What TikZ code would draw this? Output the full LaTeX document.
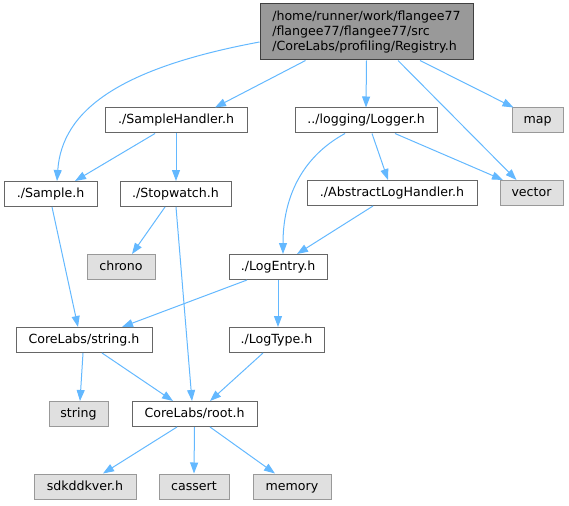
\documentclass[tikz,border=0pt]{standalone}
\usepackage{fontspec}
\setmainfont{DejaVu Sans}
\usetikzlibrary{arrows.meta,calc}
\definecolor{IncEdge}{RGB}{99,184,255}
\definecolor{IncBorder}{RGB}{102,102,102}
\definecolor{SysBorder}{RGB}{153,153,153}
\definecolor{SysFill}{RGB}{224,224,224}
\definecolor{RootFill}{RGB}{153,153,153}
\definecolor{RootBorder}{RGB}{64,64,64}

\begin{document}
\begin{tikzpicture}[x=1pt, y=-1pt, >={Triangle[length=11pt, width=8pt]}]
    \tikzstyle{hdr}=[draw=IncBorder, line width=1pt, fill=white, minimum height=25pt, inner sep=0pt, text height=9.5pt, text depth=2.5pt, font=\fontsize{12.6}{15}\selectfont]
    \tikzstyle{sys}=[hdr, draw=SysBorder, fill=SysFill]
    \tikzstyle{top}=[hdr, draw=RootBorder, fill=RootFill, align=left, minimum height=56pt, text height=, text depth=]
    \tikzstyle{inc}=[->, IncEdge, line width=1pt]

    \useasboundingbox (0,0) rectangle (569,505);

    % root file
    \node[top, minimum width=213pt] (reg) at (366.5,32) {/home/runner/work/flangee77\\/flangee77/flangee77/src\\/CoreLabs/profiling/Registry.h};

    % first row
    \node[hdr, minimum width=142pt] (sh) at (176,120.5) {./SampleHandler.h};
    \node[hdr, minimum width=142pt] (lg) at (366,120.5) {../logging/Logger.h};
    \node[sys, minimum width=51pt] (map) at (537.5,120.5) {map};

    % second row
    \node[hdr, minimum width=93pt] (smp) at (50.5,194) {./Sample.h};
    \node[hdr, minimum width=111pt] (sw) at (175.5,194) {./Stopwatch.h};
    \node[hdr, minimum width=170pt] (alh) at (392,193) {./AbstractLogHandler.h};
    \node[sys, minimum width=63pt] (vec) at (531.5,193) {vector};

    % third row
    \node[sys, minimum width=68pt] (chr) at (121,267) {chrono};
    \node[hdr, minimum width=98pt] (le) at (278,267) {./LogEntry.h};

    % fourth row
    \node[hdr, minimum width=136pt] (str) at (84,340) {CoreLabs/string.h};
    \node[hdr, minimum width=95pt] (lt) at (276.5,340) {./LogType.h};

    % fifth row
    \node[sys, minimum width=59pt] (strg) at (78.5,414) {string};
    \node[hdr, minimum width=125pt] (root) at (194.5,414) {CoreLabs/root.h};

    % system headers at the bottom
    \node[sys, minimum width=102pt] (sdk) at (85,486.5) {sdkddkver.h};
    \node[sys, minimum width=70pt] (cas) at (194,486.5) {cassert};
    \node[sys, minimum width=78pt] (mem) at (292,486.5) {memory};

    \draw[inc] ([yshift=-10pt]reg.west) .. controls (120,68) and (62,110) .. ([xshift=6.5pt]smp.north);
    \draw[inc] ([xshift=-61pt]reg.south) -- ([xshift=39pt]sh.north);
    \draw[inc] (reg.south) -- (lg.north);
    \draw[inc] ([xshift=53.5pt]reg.south) -- ([xshift=-24pt]map.north);
    \draw[inc] ([xshift=31.5pt]reg.south) -- ([xshift=-15pt]vec.north);

    \draw[inc] ([xshift=-21pt]sh.south) -- ([xshift=24.5pt]smp.north);
    \draw[inc] (sh.south) -- ([xshift=0.5pt]sw.north);

    \draw[inc] ([xshift=-21pt]lg.south) .. controls (300,158) and (283,200) .. ([xshift=5pt]le.north);
    \draw[inc] ([xshift=6pt]lg.south) -- ([xshift=-4pt]alh.north);
    \draw[inc] ([xshift=29pt]lg.south) -- ([xshift=-28.5pt]vec.north);

    \draw[inc] ([xshift=-10.5pt]sw.south) -- ([xshift=11pt]chr.north);
    \draw[inc] ([xshift=0.5pt]sw.south) -- ([xshift=-2.5pt]root.north);
    \draw[inc] ([xshift=-19pt]alh.south) -- ([xshift=19pt]le.north);

    \draw[inc] ([xshift=1.5pt]smp.south) -- ([xshift=-6pt]str.north);
    \draw[inc] ([xshift=-31pt]le.south) -- ([xshift=38pt]str.north);
    \draw[inc] (le.south) -- ([xshift=1.5pt]lt.north);

    \draw[inc] ([xshift=-1pt]str.south) -- ([xshift=1.5pt]strg.north);
    \draw[inc] ([xshift=18pt]str.south) -- ([xshift=-21.5pt]root.north);
    \draw[inc] ([xshift=-13.5pt]lt.south) -- ([xshift=15.5pt]root.north);

    \draw[inc] ([xshift=-17.5pt]root.south) -- ([xshift=18pt]sdk.north);
    \draw[inc] (root.south) -- (cas.north);
    \draw[inc] ([xshift=15.5pt]root.south) -- ([xshift=-17pt]mem.north);
\end{tikzpicture}
\end{document}
